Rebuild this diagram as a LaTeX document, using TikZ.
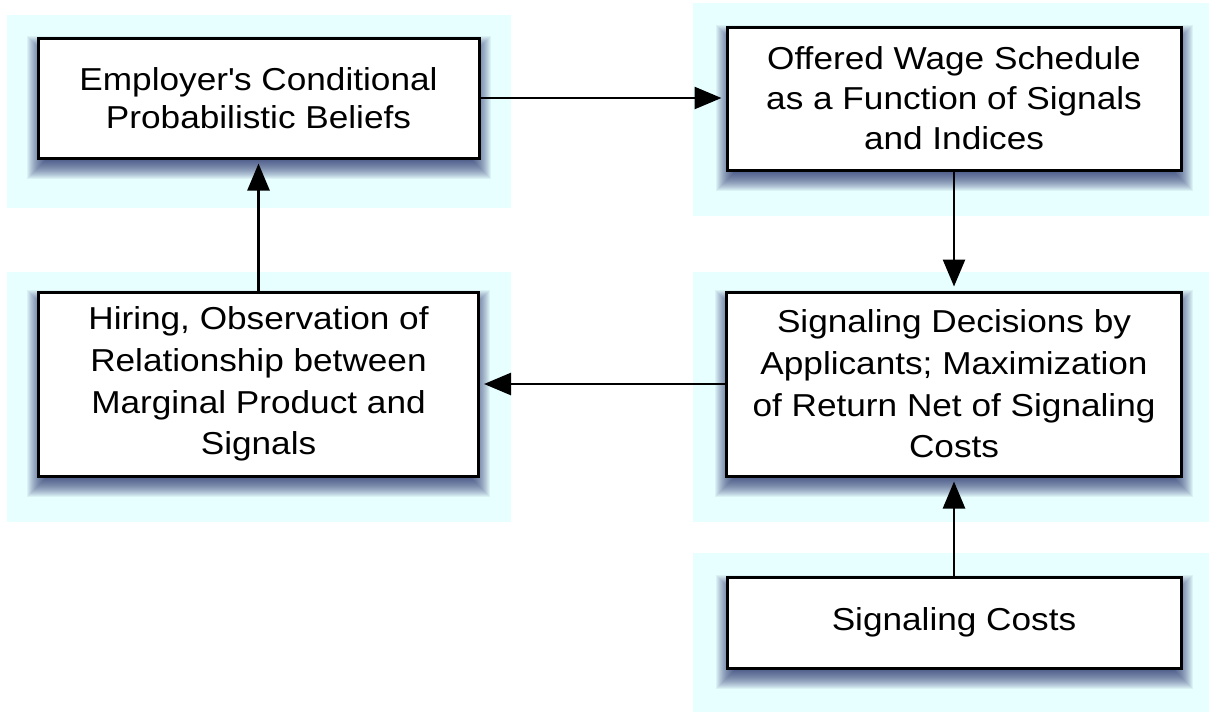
\documentclass[tikz,border=0pt]{standalone}
\usepackage{fontspec}
\setmainfont{Liberation Sans}[FakeStretch=1.11]
\usetikzlibrary{arrows.meta}
\definecolor{panelcol}{RGB}{232,255,255}
\definecolor{shadecol}{RGB}{25,35,100}
\pgfdeclarelayer{panels}
\pgfdeclarelayer{shades}
\pgfsetlayers{panels,shades,main}
\tikzset{
  stage/.style={draw=black, line width=3pt, fill=white, align=center,
    font=\fontsize{31.7}{41.7}\selectfont, inner sep=0pt},
  link/.style={line width=2.6pt, -{Triangle[length=27pt,width=22pt]}, shorten >=4pt},
  panel/.style={fill=panelcol, draw=none}
}
% soft drop shadow built from stacked translucent rectangles
\newcommand\boxshade[1]{%
  \foreach \d [evaluate=\d as \nd using -\d] in {-10,...,10} {
    \fill[shadecol, opacity=0.06]
      ([xshift=\d pt, yshift=\d pt - 9pt]#1.south west) rectangle
      ([xshift=\nd pt, yshift=\nd pt - 9pt]#1.north east);
  }%
}
\begin{document}
\begin{tikzpicture}[x=1pt, y=-1pt]
\useasboundingbox (0,0) rectangle (1212,713);

% stages
\node[stage, minimum width=441pt, minimum height=120pt,
  font=\fontsize{31.7}{37.6}\selectfont] (beliefs) at (258.5,98)
  {Employer\textquotesingle s Conditional\\Probabilistic Beliefs};
\node[stage, minimum width=454pt, minimum height=143pt,
  font=\fontsize{31.7}{40}\selectfont] (wage) at (954,98.5)
  {Offered Wage Schedule\\as a Function of Signals\\and Indices};
\node[stage, minimum width=440pt, minimum height=184pt] (hiring) at (258.5,384)
  {Hiring, Observation of\\Relationship between\\Marginal Product and\\Signals};
\node[stage, minimum width=455pt, minimum height=184pt] (decide) at (954,384)
  {Signaling Decisions by\\Applicants; Maximization\\of Return Net of Signaling\\Costs};
\node[stage, minimum width=454pt, minimum height=91pt] (costs) at (954,622.5)
  {Signaling Costs};

% background panels
\begin{pgfonlayer}{panels}
  \fill[panel] (7,15) rectangle (511,208);
  \fill[panel] (693,3) rectangle (1209,216);
  \fill[panel] (7,272) rectangle (511,522);
  \fill[panel] (693,272) rectangle (1209,522);
  \fill[panel] (693,553) rectangle (1209,712);
\end{pgfonlayer}

% shadows under the stages
\begin{pgfonlayer}{shades}
  \boxshade{beliefs}
  \boxshade{wage}
  \boxshade{hiring}
  \boxshade{decide}
  \boxshade{costs}
\end{pgfonlayer}

% connectors
\draw[link] (beliefs.east) -- (beliefs.east -| wage.west);
\draw[link] (wage.south) -- (wage.south |- decide.north);
\draw[link] (costs.north) -- (costs.north |- decide.south);
\draw[link] (decide.west) -- (decide.west -| hiring.east);
\draw[link] (hiring.north) -- (hiring.north |- beliefs.south);
\end{tikzpicture}
\end{document}
